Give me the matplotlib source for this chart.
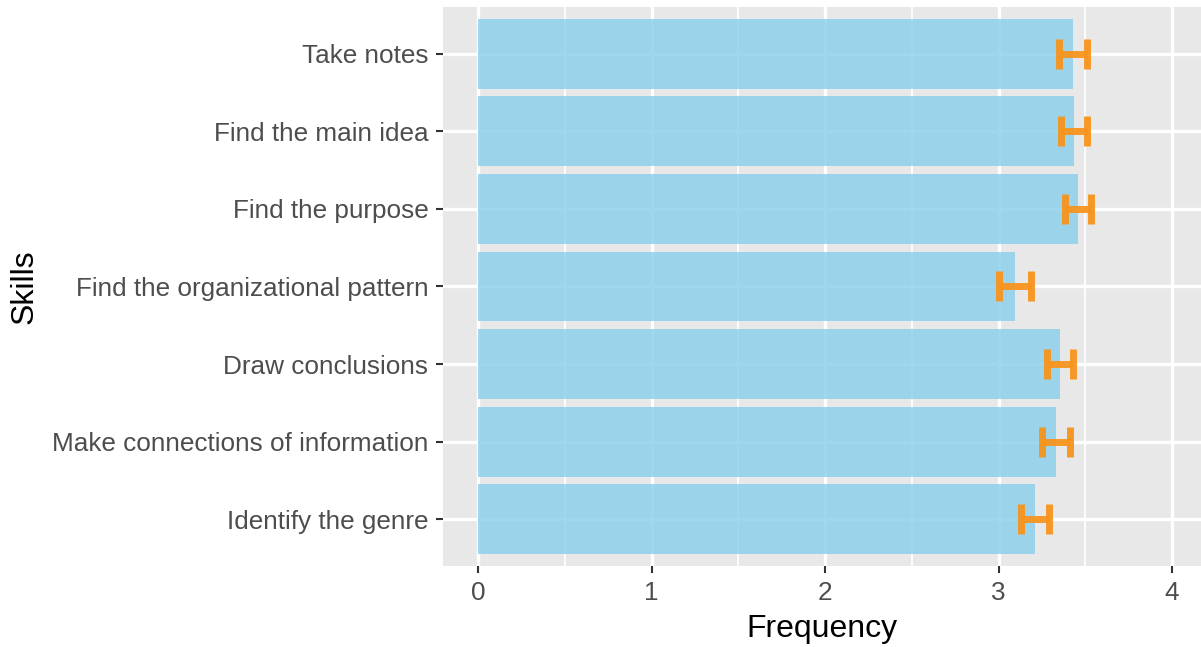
import numpy as np
import matplotlib.pyplot as plt
from matplotlib.ticker import MultipleLocator

skills = ["Identify the genre", "Make connections of information", "Draw conclusions",
          "Find the organizational pattern", "Find the purpose", "Find the main idea",
          "Take notes"]
means = [3.21, 3.33, 3.355, 3.095, 3.46, 3.435, 3.43]
errors = [0.081, 0.08, 0.073, 0.09, 0.074, 0.076, 0.082]

plt.rcParams['font.family'] = ['Liberation Sans', 'DejaVu Sans']

fig = plt.figure(figsize=(12.01, 6.47), dpi=100)
ax = fig.add_axes([0.3689, 0.1252, 0.6311, 0.864])
ax.set_facecolor('#E8E8E8')

y = np.arange(1, len(skills) + 1)
ax.barh(y, means, height=0.9, color='#87CEEB', alpha=0.8, zorder=2)
ax.errorbar(means, y, xerr=errors, fmt='none', ecolor='#F7941D', elinewidth=5,
            capsize=11, capthick=5, alpha=0.95, zorder=3)

ax.set_xlim(-0.2017, 4.167)
ax.set_ylim(0.4, 7.6)
ax.set_yticks(y)
ax.set_yticklabels(skills)
ax.xaxis.set_major_locator(MultipleLocator(1))
ax.xaxis.set_minor_locator(MultipleLocator(0.5))
ax.grid(which='major', color='white', linewidth=2.4, zorder=1)
ax.grid(which='minor', axis='x', color='white', linewidth=1.3, zorder=1)
ax.set_axisbelow(True)
for s in ax.spines.values():
    s.set_visible(False)
ax.tick_params(which='major', colors='#333333', labelcolor='#4D4D4D', length=5,
               width=1.5, labelsize=18.8, pad=5.5)
ax.tick_params(which='minor', length=0)
ax.set_xlabel("Frequency", fontsize=23, color='black')
ax.set_ylabel("Skills", fontsize=23, color='black')
ax.xaxis.set_label_coords(0.5, -0.085)
ax.yaxis.set_label_coords(-0.533, 0.5)

fig.savefig("out.png", dpi=100)
